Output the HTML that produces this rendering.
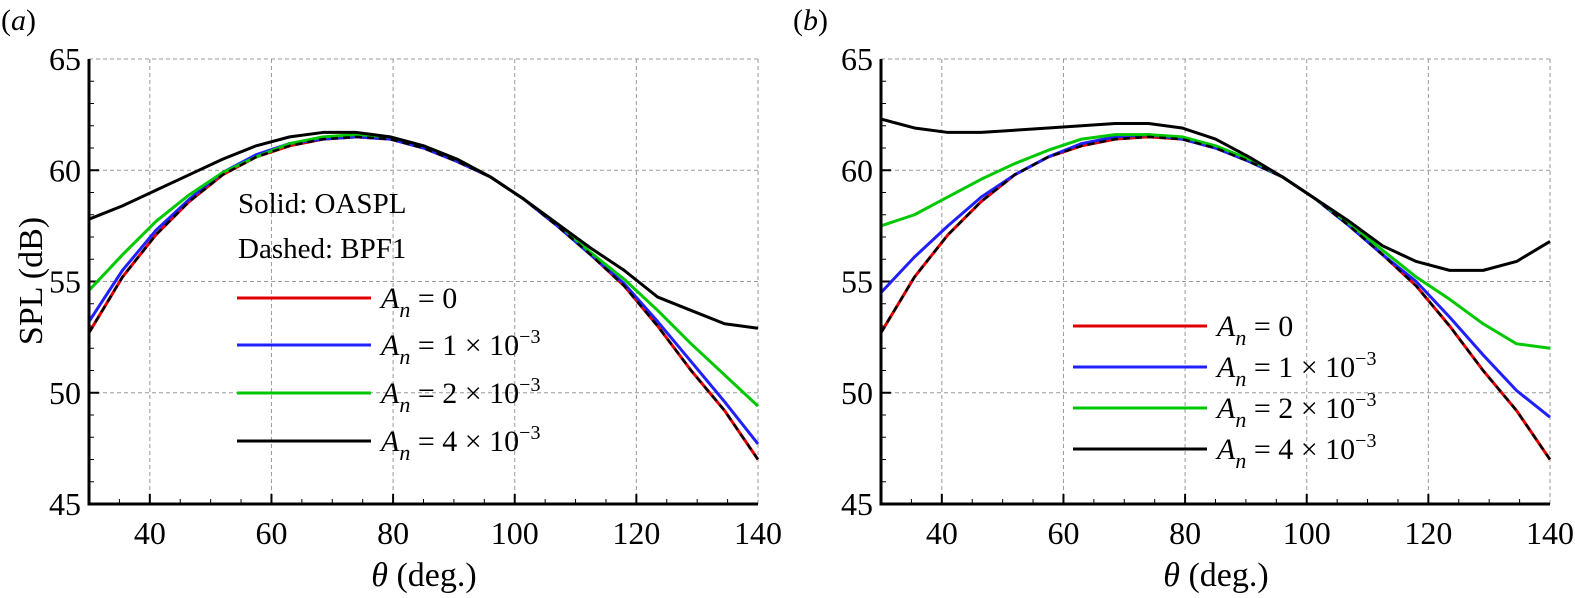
<!DOCTYPE html>
<html><head><meta charset="utf-8"><style>
body{margin:0;background:#fff}
svg{display:block}
text{font-family:"Liberation Serif","Times New Roman",serif}
</style></head><body>
<svg id="s" width="1575" height="598" viewBox="0 0 1575 598"></svg>
<script>
const thetas=[30,35.5,41,46.5,52,57.5,63,68.5,74,79.5,85,90.5,96,101.5,107,112.5,118,123.5,129,134.5,140];
const a_red=[52.7,55.2,57.1,58.6,59.8,60.6,61.1,61.4,61.5,61.4,61.0,60.4,59.7,58.7,57.5,56.2,54.8,53.0,51.0,49.2,47.0];
const a_blue=[53.2,55.5,57.3,58.7,59.9,60.7,61.2,61.4,61.5,61.4,61.0,60.4,59.7,58.7,57.5,56.2,54.9,53.2,51.4,49.6,47.7];
const a_green=[54.6,56.2,57.7,58.9,59.9,60.6,61.2,61.5,61.6,61.5,61.1,60.5,59.7,58.7,57.6,56.3,55.1,53.7,52.2,50.8,49.4];
const a_black=[57.8,58.4,59.1,59.8,60.5,61.1,61.5,61.7,61.7,61.5,61.1,60.5,59.7,58.7,57.6,56.5,55.5,54.3,53.7,53.1,52.9];
const b_red=[52.7,55.2,57.1,58.6,59.8,60.6,61.1,61.4,61.5,61.4,61.0,60.4,59.7,58.7,57.5,56.2,54.8,53.0,51.0,49.2,47.0];
const b_blue=[54.5,56.1,57.5,58.8,59.8,60.6,61.2,61.5,61.6,61.4,61.0,60.4,59.7,58.7,57.5,56.2,55.0,53.4,51.7,50.1,48.9];
const b_green=[57.5,58.0,58.8,59.6,60.3,60.9,61.4,61.6,61.6,61.5,61.1,60.5,59.7,58.7,57.6,56.4,55.2,54.2,53.1,52.2,52.0];
const b_black=[62.3,61.9,61.7,61.7,61.8,61.9,62.0,62.1,62.1,61.9,61.4,60.6,59.7,58.7,57.7,56.6,55.9,55.5,55.5,55.9,56.8];
const xTicks=[40,60,80,100,120,140];
const yTicks=[45,50,55,60,65];
const legendLabels=["0","1 × 10","2 × 10","4 × 10"];
const colors=["#e00000","#2020ff","#00c800","#000000"];
const NS="http://www.w3.org/2000/svg";
const FF='Liberation Serif, Times New Roman, serif';
const svg=document.getElementById('s');
function mk(tag,attrs,parent,name){const e=document.createElementNS(NS,tag);for(const k in attrs)e.setAttribute(k,attrs[k]);
if(tag==='text')e.setAttribute('font-family',FF);


(parent||svg).appendChild(e);return e;}
const Y0=504,Y1=59;
function panel(x0,label,series,legendPos,id){
 const x1=x0+669;
 const X=t=>x0+(t-30)/110*(x1-x0);
 const Y=v=>Y0-(v-45)/20*(Y0-Y1);
 const g=mk('g',{},svg,'panel-'+id);
 xTicks.forEach(t=>{mk('line',{x1:X(t),x2:X(t),y1:Y1,y2:Y0,stroke:'#999','stroke-width':1,'stroke-dasharray':'4,3'},g,'x-grid-line');});
 yTicks.forEach(v=>{mk('line',{x1:x0,x2:x1,y1:Y(v),y2:Y(v),stroke:'#999','stroke-width':1,'stroke-dasharray':'4,3'},g,'y-grid-line');});
 for(let t=35;t<140;t+=5){const maj=xTicks.includes(t);mk('line',{x1:X(t),x2:X(t),y1:Y0,y2:Y0-(maj?10:5),stroke:'#000','stroke-width':maj?2:1},g,'x-tick');}
 for(let v=46;v<65;v++){const maj=v%5==0;mk('line',{x1:x0,x2:x0+(maj?10:5),y1:Y(v),y2:Y(v),stroke:'#000','stroke-width':maj?2:1},g,'y-tick');}
 series.forEach((d,i)=>{mk('polyline',{points:d.map((v,j)=>X(thetas[j])+','+Y(v)).join(' '),fill:'none',stroke:colors[i],'stroke-width':3,'stroke-linejoin':'round'},g,'series-'+i);});
 mk('polyline',{points:series[0].map((v,j)=>X(thetas[j])+','+Y(v)).join(' '),fill:'none',stroke:'#000','stroke-width':2.5,'stroke-dasharray':'7,5'},g,'bpf1-dashed');
 mk('path',{d:`M${x0},${Y1} V${Y0} H${x1}`,fill:'none',stroke:'#000','stroke-width':3},g,'axes');
 xTicks.forEach(t=>{const e=mk('text',{x:X(t),y:544,'font-size':32,'text-anchor':'middle'},g,'x-tick-label');e.textContent=t;});
 yTicks.forEach(v=>{const e=mk('text',{x:x0-8,y:Y(v)+11,'font-size':32,'text-anchor':'end'},g,'y-tick-label');e.textContent=v;});
 const xt=mk('text',{x:x0+335,y:586,'font-size':34,'text-anchor':'middle'},g,'x-axis-title');
 xt.innerHTML='<tspan font-style="italic">θ</tspan> (deg.)';
 const pl=mk('text',{x:x0-88,y:30,'font-size':30},g,'panel-label');
 pl.innerHTML='(<tspan font-style="italic">'+label+'</tspan>)';
 legendPos.ys.forEach((y,i)=>{
  mk('line',{x1:legendPos.x,x2:legendPos.x+134,y1:y,y2:y,stroke:colors[i],'stroke-width':3},g,'legend-line-'+i);
  const t=mk('text',{x:legendPos.x+144,y:y+10,'font-size':30},g,'legend-entry-'+i);
  t.innerHTML='<tspan font-style="italic">A</tspan><tspan font-style="italic" font-size="22" dy="9">n</tspan><tspan dy="-9"> = '+legendLabels[i]+'</tspan>'+(i>0?'<tspan font-size="20" dy="-12">−3</tspan>':'');
 });
}
panel(89,'a',[a_red,a_blue,a_green,a_black],{x:237,ys:[298,345,393,441]},'a');
panel(881,'b',[b_red,b_blue,b_green,b_black],{x:1073,ys:[326,367,408,449]},'b');
const yt=mk('text',{x:0,y:0,'font-size':34,'text-anchor':'middle',transform:'translate(42,281) rotate(-90)'},svg,'y-axis-title');
yt.textContent='SPL (dB)';
const s1=mk('text',{x:238,y:213,'font-size':29},svg,'note-solid');s1.textContent='Solid: OASPL';
const s2=mk('text',{x:238,y:258,'font-size':29},svg,'note-dashed');s2.textContent='Dashed: BPF1';
</script>
</body></html>
